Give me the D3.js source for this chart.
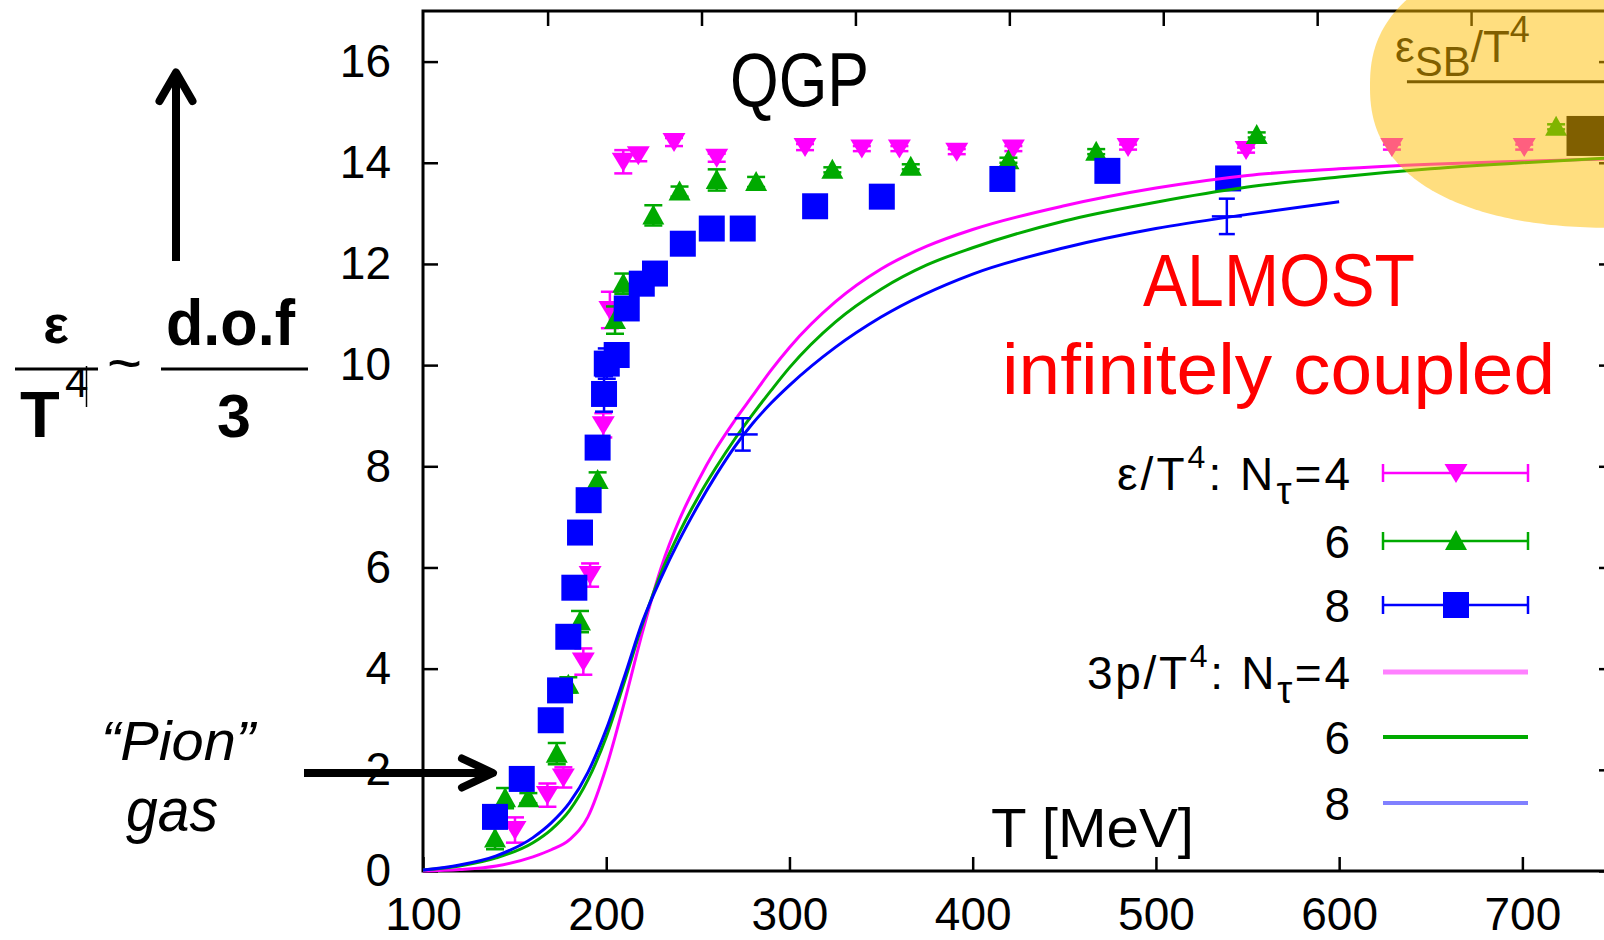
<!DOCTYPE html>
<html><head><meta charset="utf-8">
<script src="https://cdn.jsdelivr.net/npm/d3@7"></script>
<style>
body{margin:0;background:#fff;}
svg{display:block;}
text{font-family:"Liberation Sans",Arial,sans-serif;}
</style>
</head><body>
<svg id="chart" width="1604" height="940"></svg>
<script>
// ---------- data ----------
const xTicks = [100, 200, 300, 400, 500, 600, 700];
const yTicks = [0, 2, 4, 6, 8, 10, 12, 14, 16];
const topTicks = [168, 252, 336, 420, 504, 588, 672];

// energy density eps/T^4 : [T, value, error]
const eps4 = [[150.2,0.81,0.25],[167.9,1.50,0.23],[176.6,1.85,0.20],[187.5,4.14,0.26],[191.2,5.85,0.23],
  [198.4,8.81,0.24],[202,11.09,0.36],[209.3,14.02,0.23],[217.5,14.15,0.12],[237,14.41,0.08],[260.3,14.10,0.08],
  [308.5,14.31,0.06],[339.5,14.28,0.05],[360,14.28,0.05],[391.3,14.22,0.05],[422.2,14.28,0.05],[484.8,14.31,0.05],
  [549.2,14.25,0.05],[628.8,14.31,0.05],[701,14.31,0.05]];
const eps6 = [[139.3,0.64,0.21],[144.8,1.44,0.20],[157.5,1.44,0.10],[173,2.32,0.21],[179.3,3.68,0.15],
  [185.7,4.93,0.21],[195.3,7.73,0.15],[204.8,10.89,0.27],[209.3,11.61,0.20],[225.7,12.96,0.20],[240,13.43,0.10],
  [260.3,13.66,0.21],[281.8,13.62,0.10],[323.4,13.86,0.05],[366.2,13.92,0.05],[419.5,14.05,0.05],
  [467.4,14.22,0.05],[555,14.55,0.05],[718.4,14.71,0.05]];
const eps8 = [[139.3,1.07,0.1],[153.9,1.82,0.1],[169.7,2.98,0.1],[174.8,3.57,0.1],[179.3,4.63,0.1],
  [182.6,5.60,0.1],[185.7,6.69,0.1],[190.4,7.33,0.1],[195.3,8.37,0.1],[198.8,9.43,0.35],[200.3,10.03,0.3],
  [205.7,10.20,0.1],[211.2,11.12,0.1],[219.4,11.61,0.1],[226.6,11.81,0.1],[241.8,12.40,0.1],[257.6,12.70,0.1],
  [274.5,12.70,0.1],[314,13.14,0.1],[350.4,13.33,0.1],[416.2,13.68,0.1],[473.5,13.84,0.1],[539.4,13.69,0.1]];

// pressure 3p/T^4 curves: [T, value]
const p4 = [[100,0.0],[120,0.03],[140,0.1],[160,0.28],[170,0.42],[180,0.62],[190,1.07],[200,2.05],[210,3.35],
  [220,4.75],[230,6.0],[240,6.95],[250,7.7],[260,8.35],[270,8.9],[280,9.4],[290,9.9],[300,10.35],[325,11.25],
  [350,11.9],[375,12.35],[400,12.68],[450,13.15],[500,13.5],[550,13.75],[600,13.88],[650,13.97],[700,14.03],[750,14.08]];
const p6 = [[100,0.02],[120,0.10],[140,0.26],[160,0.56],[170,0.82],[180,1.2],[190,1.8],[200,2.65],[210,3.75],
  [220,4.9],[230,5.9],[240,6.7],[250,7.38],[260,7.98],[270,8.53],[280,9.03],[290,9.5],[300,9.95],[325,10.85],
  [350,11.5],[375,11.98],[400,12.32],[450,12.85],[500,13.22],[550,13.52],[600,13.72],[650,13.88],[700,14.0],[750,14.1]];
const p8 = [[100,0.02],[120,0.12],[140,0.30],[160,0.66],[170,0.95],[180,1.35],[190,1.95],[200,2.8],[210,3.85],
  [220,4.95],[230,5.8],[240,6.55],[250,7.22],[260,7.83],[270,8.38],[280,8.85],[290,9.25],[300,9.6],[325,10.35],
  [350,10.95],[400,11.8],[450,12.32],[500,12.7],[550,12.98],[600,13.23]];
// error bars on the Ntau=8 pressure curve: [T, value, error]
const p8Err = [[274.5,8.63,0.32],[538.7,12.94,0.35]];

// Stefan-Boltzmann limit
const sbLevel = 15.6;
const sbRange = [637, 750];
const darkMarker = [[735, 14.53]];

const legendEps = [
  {pre:"ε/T", sup:"4", mid:": N", sub:"τ", post:"=4", len:233, color:"#ff00ff", shape:"down"},
  {pre:"6", color:"#00aa00", shape:"up"},
  {pre:"8", color:"#0000ff", shape:"square"}];
const legendP = [
  {pre:"3p/T", sup:"4", mid:": N", sub:"τ", post:"=4", len:263, color:"#ff80ff", w:5},
  {pre:"6", color:"#00aa00", w:4},
  {pre:"8", color:"#8080ff", w:4}];

// ---------- scales ----------
const svg = d3.select("#chart");
const x = d3.scaleLinear().domain([100, 750]).range([423, 1614]);
const y = d3.scaleLinear().domain([0, 17]).range([871, 11]);

// ---------- axes ----------
function styleAxis(g, fs){
  g.select(".domain").remove();
  g.selectAll(".tick line").attr("stroke","#000").attr("stroke-width",2.5);
  g.selectAll(".tick text").attr("font-size",fs).attr("fill","#000")
    .attr("font-family",'"Liberation Sans",Arial,sans-serif');
}
svg.append("g").attr("transform",`translate(0,${y(0)})`)
  .call(d3.axisBottom(x).tickValues(xTicks).tickSize(-14).tickPadding(26).tickFormat(d3.format("d")))
  .call(g=>styleAxis(g,46));
svg.append("g").attr("transform",`translate(${x(100)},0)`)
  .call(d3.axisLeft(y).tickValues(yTicks).tickSize(-15).tickPadding(32).tickFormat(d3.format("d")))
  .call(g=>styleAxis(g,46));
svg.append("g").attr("transform",`translate(${x(750)},0)`)
  .call(d3.axisRight(y).tickValues(yTicks).tickSize(-15).tickFormat(""))
  .call(g=>styleAxis(g,46));
svg.append("g").attr("transform",`translate(0,${y(17)})`)
  .call(d3.axisTop(x).tickValues(topTicks).tickSize(-15).tickFormat(""))
  .call(g=>styleAxis(g,46));
// frame
svg.append("rect").attr("x",x(100)).attr("y",y(17)).attr("width",x(750)-x(100)).attr("height",y(0)-y(17))
  .attr("fill","none").attr("stroke","#000").attr("stroke-width",3);

// ---------- markers ----------
const shapes = {
  down: "M-11.5,-9L11.5,-9L0,10Z",
  up: "M-11,9L11,9L0,-11Z",
  square: "M-13,-13H13V13H-13Z"
};
function drawSeries(data, color, shape){
  const g = svg.append("g");
  const eb = g.selectAll("g.eb").data(data).join("g").attr("stroke",color).attr("stroke-width",2.5);
  eb.append("line").attr("x1",d=>x(d[0])).attr("x2",d=>x(d[0])).attr("y1",d=>y(d[1]-d[2])).attr("y2",d=>y(d[1]+d[2]));
  eb.append("line").attr("x1",d=>x(d[0])-9).attr("x2",d=>x(d[0])+9).attr("y1",d=>y(d[1]-d[2])).attr("y2",d=>y(d[1]-d[2]));
  eb.append("line").attr("x1",d=>x(d[0])-9).attr("x2",d=>x(d[0])+9).attr("y1",d=>y(d[1]+d[2])).attr("y2",d=>y(d[1]+d[2]));
  g.selectAll("path").data(data).join("path").attr("d",shapes[shape]).attr("fill",color)
    .attr("transform",d=>`translate(${x(d[0])},${y(d[1])})`);
}
drawSeries(eps4,"#ff00ff","down");
drawSeries(eps6,"#00aa00","up");
drawSeries(eps8,"#0000ff","square");

// ---------- curves ----------
const line = d3.line().x(d=>x(d[0])).y(d=>y(d[1])).curve(d3.curveMonotoneX);
[[p4,"#ff00ff"],[p6,"#00aa00"],[p8,"#0000ff"]].forEach(([d,c])=>{
  svg.append("path").datum(d).attr("d",line).attr("fill","none").attr("stroke",c).attr("stroke-width",3);
});
const pe = svg.append("g").attr("stroke","#0000ff").attr("stroke-width",2.5);
p8Err.forEach(d=>{
  pe.append("line").attr("x1",x(d[0])).attr("x2",x(d[0])).attr("y1",y(d[1]-d[2])).attr("y2",y(d[1]+d[2]));
  pe.append("line").attr("x1",x(d[0])-8).attr("x2",x(d[0])+8).attr("y1",y(d[1]-d[2])).attr("y2",y(d[1]-d[2]));
  pe.append("line").attr("x1",x(d[0])-8).attr("x2",x(d[0])+8).attr("y1",y(d[1]+d[2])).attr("y2",y(d[1]+d[2]));
  pe.append("line").attr("x1",x(d[0])-15).attr("x2",x(d[0])+15).attr("y1",y(d[1])).attr("y2",y(d[1]));
});

// ---------- SB limit (under the highlight) ----------
svg.append("line").attr("x1",x(sbRange[0])).attr("x2",x(sbRange[1])).attr("y1",y(sbLevel)).attr("y2",y(sbLevel))
  .attr("stroke","#000").attr("stroke-width",3);
svg.selectAll("rect.dark").data(darkMarker).join("rect").attr("class","dark")
  .attr("x",d=>x(d[0])-20).attr("y",d=>y(d[1])-20).attr("width",40).attr("height",40).attr("fill","#000");
const sbT = svg.append("text").attr("x",1395).attr("y",62).attr("font-size",44).attr("fill","#000");
sbT.append("tspan").text("ε");
sbT.append("tspan").attr("dy",14).attr("font-size",42).text("SB");
sbT.append("tspan").attr("dy",-14).text("/T");
sbT.append("tspan").attr("dy",-20).attr("font-size",36).text("4");
// highlight blob (rounded super-ellipse)
(function(){
  const cx=1622, cy=86, rx=252, ry=142, n=2.35, pts=[];
  for(let i=0;i<=360;i++){
    const t=i*Math.PI/180, c=Math.cos(t), s=Math.sin(t);
    pts.push([cx+rx*Math.sign(c)*Math.pow(Math.abs(c),2/n), cy+ry*Math.sign(s)*Math.pow(Math.abs(s),2/n)]);
  }
  svg.append("path").attr("d",d3.line()(pts)+"Z").attr("fill","#ffbe00").attr("fill-opacity",0.5);
})();

// ---------- legend ----------
const legRows = [473, 541, 605, 672, 737, 803];
function legendLabel(item, yRow){
  const t = svg.append("text").attr("x",1350).attr("y",yRow+17).attr("text-anchor","end")
    .attr("font-size",46).attr("fill","#000");
  t.append("tspan").text(item.pre);
  if(item.sup){
    t.attr("textLength",item.len).attr("lengthAdjust","spacing");
    t.append("tspan").attr("dy",-22).attr("font-size",32).text(item.sup);
    t.append("tspan").attr("dy",22).text(item.mid);
    t.append("tspan").attr("dy",14).attr("font-size",38).text(item.sub);
    t.append("tspan").attr("dy",-14).text(item.post);
  }
}
legendEps.forEach((it,i)=>{
  const yy = legRows[i];
  legendLabel(it, yy);
  const g = svg.append("g").attr("stroke",it.color).attr("stroke-width",2.5);
  g.append("line").attr("x1",1383).attr("x2",1528).attr("y1",yy).attr("y2",yy);
  g.append("line").attr("x1",1383).attr("x2",1383).attr("y1",yy-9).attr("y2",yy+9);
  g.append("line").attr("x1",1528).attr("x2",1528).attr("y1",yy-9).attr("y2",yy+9);
  svg.append("path").attr("d",shapes[it.shape]).attr("fill",it.color).attr("transform",`translate(1456,${yy})`);
});
legendP.forEach((it,i)=>{
  const yy = legRows[i+3];
  legendLabel(it, yy);
  svg.append("line").attr("x1",1383).attr("x2",1528).attr("y1",yy).attr("y2",yy)
    .attr("stroke",it.color).attr("stroke-width",it.w);
});

// ---------- annotations ----------
svg.append("text").attr("x",730).attr("y",106).attr("font-size",76).attr("textLength",139)
  .attr("lengthAdjust","spacingAndGlyphs").text("QGP");
svg.append("text").attr("x",1143).attr("y",306).attr("font-size",74).attr("fill","#ff0000")
  .attr("textLength",272).attr("lengthAdjust","spacingAndGlyphs").text("ALMOST");
svg.append("text").attr("x",1002).attr("y",394).attr("font-size",73).attr("fill","#ff0000")
  .attr("textLength",553).attr("lengthAdjust","spacingAndGlyphs").text("infinitely coupled");
svg.append("text").attr("x",991).attr("y",847).attr("font-size",56)
  .attr("textLength",203).attr("lengthAdjust","spacingAndGlyphs").text("T [MeV]");

// left formula
svg.append("text").attr("x",56).attr("y",343).attr("text-anchor","middle").attr("font-size",54)
  .attr("font-weight","bold").text("ε");
svg.append("line").attr("x1",15).attr("x2",98).attr("y1",369).attr("y2",369).attr("stroke","#000").attr("stroke-width",3);
svg.append("text").attr("x",20).attr("y",437).attr("font-size",65).attr("font-weight","bold").text("T");
svg.append("text").attr("x",65).attr("y",397).attr("font-size",42).text("4");
svg.append("line").attr("x1",86.5).attr("x2",86.5).attr("y1",366).attr("y2",407).attr("stroke","#000").attr("stroke-width",1.5);
svg.append("text").attr("x",107).attr("y",383).attr("font-size",60).text("~");
svg.append("text").attr("x",166).attr("y",345).attr("font-size",64).attr("font-weight","bold")
  .attr("textLength",129).attr("lengthAdjust","spacingAndGlyphs").text("d.o.f");
svg.append("line").attr("x1",161).attr("x2",308).attr("y1",369).attr("y2",369).attr("stroke","#000").attr("stroke-width",3);
svg.append("text").attr("x",234).attr("y",437).attr("text-anchor","middle").attr("font-size",61)
  .attr("font-weight","bold").text("3");

// arrows
const arr = svg.append("g").attr("stroke","#000").attr("stroke-width",8).attr("fill","none")
  .attr("stroke-linecap","round").attr("stroke-linejoin","round");
arr.append("line").attr("x1",176).attr("x2",176).attr("y1",261).attr("y2",76).attr("stroke-linecap","butt");
arr.append("polyline").attr("points","159.5,101 176,72.5 192.5,101");
arr.append("line").attr("x1",304).attr("x2",490).attr("y1",773).attr("y2",773).attr("stroke-linecap","butt");
arr.append("polyline").attr("points","462,758.5 493,773 462,787.5");

svg.append("text").attr("x",101).attr("y",760).attr("font-size",56).attr("font-style","italic")
  .attr("textLength",154).attr("lengthAdjust","spacingAndGlyphs").text("“Pion”");
svg.append("text").attr("x",126).attr("y",831).attr("font-size",62).attr("font-style","italic")
  .attr("textLength",92).attr("lengthAdjust","spacingAndGlyphs").text("gas");
</script>
</body></html>
